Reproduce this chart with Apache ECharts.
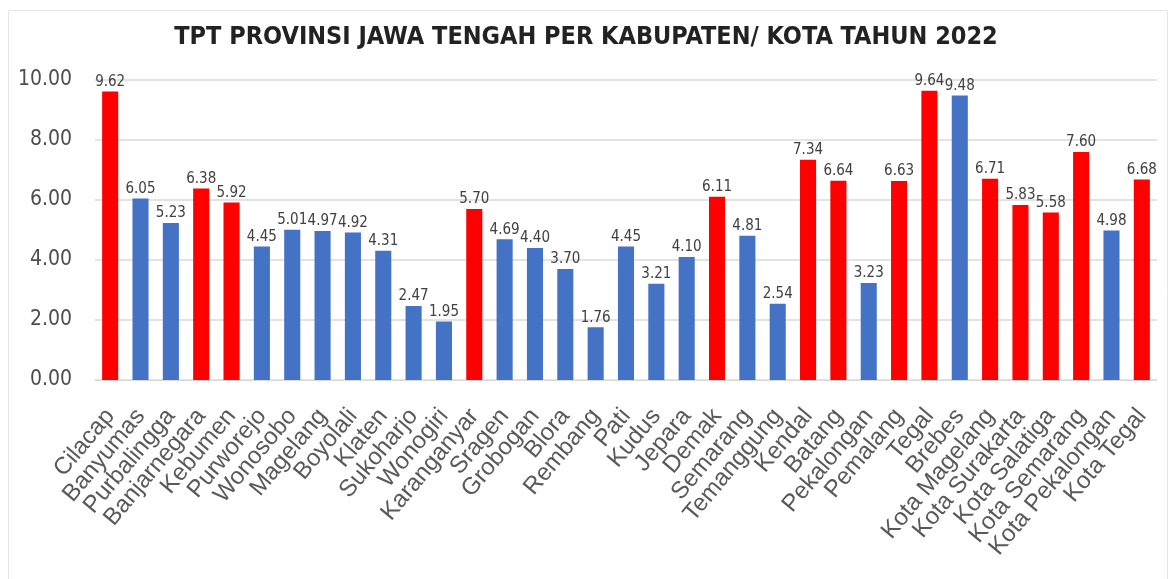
<!DOCTYPE html>
<html>
<head>
<meta charset="utf-8">
<script src="https://cdn.jsdelivr.net/npm/echarts@6/dist/echarts.min.js"></script>
<style>
html,body{margin:0;padding:0;background:#fff;}
#chart{width:1172px;height:579px;}
</style>
</head>
<body>
<div id="chart"></div>
<script>
const titleText = 'TPT PROVINSI JAWA TENGAH PER KABUPATEN/ KOTA TAHUN 2022';
const categories = ['Cilacap','Banyumas','Purbalingga','Banjarnegara','Kebumen','Purworejo','Wonosobo','Magelang','Boyolali','Klaten','Sukoharjo','Wonogiri','Karanganyar','Sragen','Grobogan','Blora','Rembang','Pati','Kudus','Jepara','Demak','Semarang','Temanggung','Kendal','Batang','Pekalongan','Pemalang','Tegal','Brebes','Kota Magelang','Kota Surakarta','Kota Salatiga','Kota Semarang','Kota Pekalongan','Kota Tegal'];
const values = [9.62,6.05,5.23,6.38,5.92,4.45,5.01,4.97,4.92,4.31,2.47,1.95,5.70,4.69,4.40,3.70,1.76,4.45,3.21,4.10,6.11,4.81,2.54,7.34,6.64,3.23,6.63,9.64,9.48,6.71,5.83,5.58,7.60,4.98,6.68];
const highlighted = ['Cilacap','Banjarnegara','Kebumen','Karanganyar','Demak','Kendal','Batang','Pemalang','Tegal','Kota Magelang','Kota Surakarta','Kota Salatiga','Kota Semarang','Kota Tegal'];
const yTicks = [0,2,4,6,8,10];

const RED = '#ff0000', BLUE = '#4472c4';
const chart = echarts.init(document.getElementById('chart'));
chart.setOption({
  backgroundColor: '#ffffff',
  animation: false,
  graphic: [{
    type: 'rect', left: 6, top: 8, silent: true, z: -10,
    shape: {width: 1159, height: 580},
    style: {fill: 'none', stroke: '#e6e6e6', lineWidth: 1}
  }],
  title: {
    text: titleText, left: 'center', top: 20,
    textStyle: {fontFamily: 'DejaVu Sans Condensed, sans-serif', fontSize: 25, fontWeight: 'bold', color: '#222222'}
  },
  grid: {left: 95, right: 15, top: 80, bottom: 199, containLabel: false},
  xAxis: {
    type: 'category', data: categories,
    axisLine: {lineStyle: {color: '#d9d9d9'}},
    axisTick: {show: false},
    axisLabel: {interval: 0, rotate: 50, fontFamily: 'Liberation Sans, Arial, sans-serif', fontSize: 24, color: '#595959', margin: 32, padding: [16, 0, 0, 0]}
  },
  yAxis: {
    type: 'value', min: yTicks[0], max: yTicks[yTicks.length-1], interval: 2,
    axisLine: {show: false}, axisTick: {show: false},
    splitLine: {lineStyle: {color: '#e3e3e3', width: 2}},
    axisLabel: {formatter: v => v.toFixed(2), fontFamily: 'DejaVu Sans Condensed, sans-serif', fontSize: 21, color: '#4d4d4d', margin: 23}
  },
  series: [{
    type: 'bar',
    data: values.map((v, i) => ({value: v, itemStyle: {color: highlighted.includes(categories[i]) ? RED : BLUE}})),
    barCategoryGap: '47%',
    label: {show: true, position: 'top', distance: 2, formatter: p => p.value.toFixed(2), fontFamily: 'DejaVu Sans Condensed, sans-serif', fontSize: 15, color: '#404040'}
  }]
});
</script>
</body>
</html>
